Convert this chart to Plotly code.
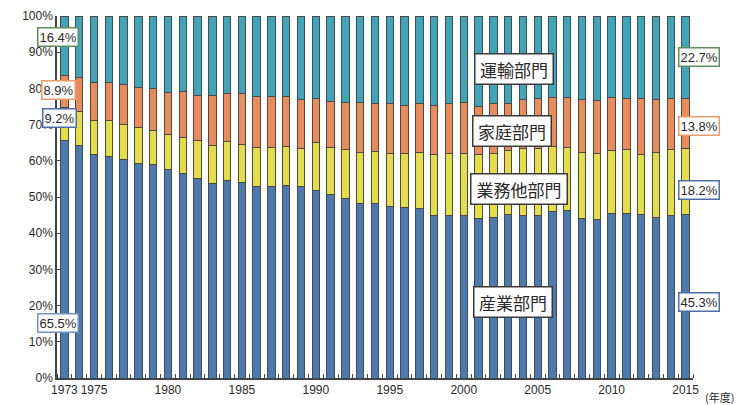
import plotly.graph_objects as go

years = list(range(1973, 2016))
industry = [65.5, 64.2, 61.8, 61.3, 60.4, 59.3, 59.0, 57.7, 56.5, 55.0,
            53.6, 54.6, 53.9, 53.0, 52.9, 53.2, 52.9, 51.9, 50.6, 49.5,
            48.2, 48.2, 47.5, 47.2, 46.9, 44.9, 44.9, 44.9, 44.1, 44.4,
            45.2, 44.9, 44.9, 45.9, 46.2, 44.0, 43.8, 45.4, 45.4, 45.1,
            44.4, 44.9, 45.3]
business = [9.2, 9.3, 9.3, 9.8, 9.7, 9.9, 9.4, 9.7, 10.0, 10.5,
            10.5, 10.6, 10.6, 10.7, 10.8, 10.8, 10.4, 13.2, 13.1, 13.6,
            14.2, 14.5, 14.6, 14.9, 15.5, 16.9, 17.2, 17.2, 17.6, 17.7,
            17.6, 18.4, 18.4, 18.1, 17.5, 18.3, 18.2, 17.4, 17.6, 16.6,
            17.9, 18.1, 18.2]
household = [8.9, 9.5, 10.5, 10.5, 10.9, 11.1, 11.5, 11.5, 12.6, 12.6,
             14.0, 13.4, 14.0, 14.0, 14.0, 13.7, 13.7, 12.2, 12.6, 12.9,
             13.6, 13.0, 13.6, 13.2, 13.3, 13.5, 13.6, 13.9, 13.4, 13.8,
             13.1, 13.7, 13.8, 13.5, 13.8, 14.7, 14.6, 14.7, 14.3, 15.4,
             14.7, 14.3, 13.8]
transport = [16.4, 17.0, 18.4, 18.4, 19.0, 19.7, 20.1, 21.1, 20.9, 21.9,
             21.9, 21.4, 21.5, 22.3, 22.3, 22.3, 23.0, 22.7, 23.7, 24.0,
             24.0, 24.3, 24.3, 24.7, 24.3, 24.7, 24.3, 24.0, 24.9, 24.1,
             24.1, 23.0, 22.9, 22.5, 22.5, 23.0, 23.4, 22.5, 22.7, 22.9,
             23.0, 22.7, 22.7]
series_names = ["産業部門", "業務他部門", "家庭部門", "運輸部門"]
colors = ["#4a7ab0", "#e4dd44", "#ea8b58", "#3fa5bb"]
xtick_years = [1973, 1975, 1980, 1985, 1990, 1995, 2000, 2005, 2010, 2015]
ytick_vals = [0, 10, 20, 30, 40, 50, 60, 70, 80, 90, 100]

JP = "Noto Sans CJK JP"
LAT = "Liberation Sans"
TXT = "#2a2a2a"

fig = go.Figure()
for name, vals, col in zip(series_names, [industry, business, household, transport], colors):
    fig.add_trace(go.Bar(x=years, y=vals, name=name, width=0.5,
                         marker=dict(color=col, line=dict(color="#4a4a4a", width=1))))

W, H = 738, 405
L, R, T, B = 57, 45, 16, 27
pw, ph = W - L - R, H - T - B

def px(xp):
    return (xp - L) / pw

def py(yp):
    return (H - B - yp) / ph

anns = []
def pct_label(text, x, y, border):
    anns.append(dict(text=text, x=px(x), y=py(y), xref="paper", yref="paper",
                     xanchor="center", yanchor="middle",
                     showarrow=False, bgcolor="white", bordercolor=border,
                     borderwidth=1.5, borderpad=1,
                     font=dict(family=LAT, size=13, color=TXT)))

def cat_label(text, x, y, w):
    anns.append(dict(text=text, x=px(x), y=py(y), xref="paper", yref="paper",
                     xanchor="center", yanchor="middle", width=w, height=27,
                     showarrow=False, bgcolor="white", bordercolor="#3a3a3a",
                     borderwidth=1.5, borderpad=1,
                     font=dict(family=JP, size=17, color=TXT)))

pct_label("16.4%", 58, 37, "#5e8f5e")
pct_label("8.9%", 58, 90, "#ec9a6c")
pct_label("9.2%", 59, 118, "#4d6fa8")
pct_label("65.5%", 58, 323, "#6f95c6")
pct_label("22.7%", 699, 57, "#5e8f5e")
pct_label("13.8%", 699, 126, "#ec9a6c")
pct_label("18.2%", 699, 190, "#4d6fa8")
pct_label("45.3%", 699, 302, "#4d6fa8")

cat_label("運輸部門", 513.5, 69, 75)
cat_label("家庭部門", 511.5, 130.5, 75)
cat_label("業務他部門", 518.5, 189, 93)
cat_label("産業部門", 513, 302, 75)

anns.append(dict(text="(年度)", x=px(703), y=py(397), xref="paper", yref="paper",
                 xanchor="left", yanchor="middle", showarrow=False,
                 font=dict(family=JP, size=11, color=TXT)))

fig.update_layout(
    barmode="stack",
    width=W, height=H,
    margin=dict(l=L, r=R, t=T, b=B, pad=0),
    plot_bgcolor="white", paper_bgcolor="white",
    showlegend=False,
    annotations=anns,
    xaxis=dict(range=[1972.5, 2015.5], tickvals=xtick_years,
               ticktext=[str(v) for v in xtick_years], ticks="",
               tickangle=0, automargin=False,
               showgrid=False, zeroline=False, showline=True,
               linecolor="#444444", linewidth=1.5,
               tickfont=dict(family=LAT, size=12, color=TXT),
               minor=dict(tick0=1972.5, dtick=1, ticks="inside", ticklen=4,
                          tickcolor="#444444", showgrid=False)),
    yaxis=dict(range=[0, 100], tickvals=ytick_vals, automargin=False,
               ticktext=[f"{v}%" for v in ytick_vals], ticks="inside",
               ticklen=4, tickcolor="#444444",
               showgrid=False, zeroline=False, showline=True,
               linecolor="#444444", linewidth=1.5,
               tickfont=dict(family=LAT, size=12, color=TXT)),
)

fig.write_html("out.html", config={"displayModeBar": False},
               post_script="document.body.style.margin='0';document.body.style.overflow='hidden';")
